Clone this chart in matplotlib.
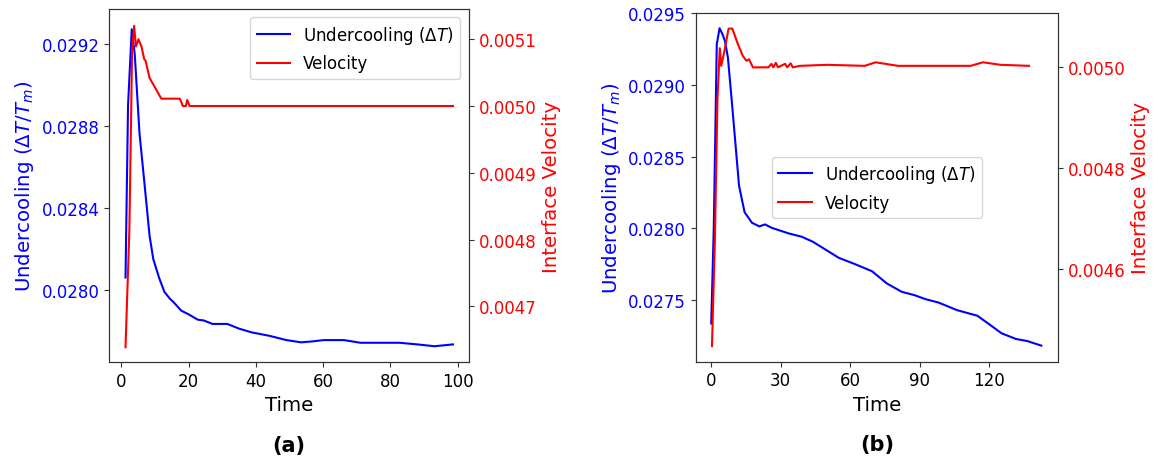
import matplotlib
matplotlib.use("Agg")
import matplotlib.pyplot as plt
from matplotlib.ticker import MultipleLocator, FormatStrFormatter

# ---------------- Data: panel (a) ----------------
t_under_a = [1.25, 2.0, 3.1, 4.0, 5.4, 7.0, 8.4, 9.5, 11.2, 12.8, 14.5, 15.5, 17.8, 20.0,
             22.7, 24.5, 27.1, 31.5, 35.0, 38.7, 44.0, 49.1, 53.5, 57.0, 60.1, 66.2,
             71.1, 82.7, 88.0, 93.1, 98.6]
under_a = [0.02806, 0.02890, 0.029273, 0.02915, 0.028766, 0.02850, 0.028264, 0.02815,
           0.02806, 0.02799, 0.027955, 0.027940, 0.027898, 0.027880, 0.027854, 0.027850,
           0.027833, 0.027833, 0.027810, 0.027792, 0.027775, 0.027754, 0.027743, 0.027748,
           0.027754, 0.027754, 0.027741, 0.027741, 0.027733, 0.027724, 0.027733]

t_vel_a = [1.25, 2.4, 3.2, 3.8, 4.35, 5.1, 6.0, 6.8, 7.2, 8.4, 10.1, 11.9, 17.4, 18.3,
           19.2, 19.6, 20.3, 30.0, 50.0, 70.0, 98.6]
vel_a = [0.004639, 0.004815, 0.00508, 0.00512, 0.005089, 0.0051, 0.005089, 0.00507,
         0.005068, 0.005042, 0.005027, 0.005011, 0.005011, 0.0050, 0.0050, 0.005009,
         0.0050, 0.0050, 0.0050, 0.0050, 0.0050]

# ---------------- Data: panel (b) ----------------
t_under_b = [0.0, 1.1, 2.4, 3.6, 4.8, 5.9, 7.2, 8.8, 10.4, 12.0, 14.4, 17.6, 20.8, 23.2,
             26.3, 33.5, 39.1, 43.9, 55.1, 61.5, 69.4, 75.8, 82.2, 87.8, 92.6, 98.1,
             106.1, 114.9, 120.5, 125.3, 131.6, 136.4, 142.5]
under_b = [0.027338, 0.0280, 0.029283, 0.029394, 0.029354, 0.029307, 0.02919, 0.028901,
           0.0286, 0.028298, 0.028113, 0.028039, 0.028014, 0.028028, 0.028003, 0.027965,
           0.027942, 0.027907, 0.027795, 0.027755, 0.027702, 0.027617, 0.027559, 0.027535,
           0.027507, 0.027484, 0.027431, 0.027392, 0.027327, 0.02727, 0.02723, 0.027216,
           0.027184]

t_vel_b = [0.33, 1.6, 2.7, 3.7, 4.3, 5.6, 6.4, 7.5, 9.1, 11.2, 13.6, 15.2, 16.3, 18.0,
           24.7, 26.0, 26.8, 27.9, 28.8, 31.9, 32.8, 34.3, 35.2, 38.3, 50.0, 66.2, 71.0,
           80.6, 100.0, 112.0, 117.3, 125.0, 137.2]
vel_b = [0.004446, 0.00466, 0.004937, 0.005038, 0.005003, 0.00503, 0.00505, 0.005077,
         0.005077, 0.00505, 0.005023, 0.005013, 0.005016, 0.0050, 0.0050, 0.005007,
         0.0050, 0.005009, 0.0050, 0.005007, 0.0050, 0.005008, 0.0050, 0.005003,
         0.005005, 0.005003, 0.00501, 0.005003, 0.005003, 0.005003, 0.00501, 0.005005,
         0.005003]

x_ticks_a = [0, 20, 40, 60, 80, 100]
x_ticks_b = [0, 30, 60, 90, 120]

TICK_FS = 12
LABEL_FS = 14.2
LEG_FS = 12
TAG_FS = 15

W, H = 1157, 464
fig = plt.figure(figsize=(W / 100, H / 100), dpi=100)


def make_panel(rect, t_u, u, t_v, v, xticks, xlim, ylim, y2lim, y_step, y2_step,
               leg_loc, tag):
    ax = fig.add_axes(rect)
    ax2 = ax.twinx()
    l1, = ax.plot(t_u, u, color="blue", lw=1.5, label=r"Undercooling ($\Delta T$)")
    l2, = ax2.plot(t_v, v, color="red", lw=1.5, label="Velocity")
    ax.set_xlim(*xlim)
    ax.set_ylim(*ylim)
    ax2.set_ylim(*y2lim)
    ax.set_xticks(xticks)
    ax.yaxis.set_major_locator(MultipleLocator(y_step))
    ax.yaxis.set_major_formatter(FormatStrFormatter("%.4f"))
    ax2.yaxis.set_major_locator(MultipleLocator(y2_step))
    ax2.yaxis.set_major_formatter(FormatStrFormatter("%.4f"))
    ax.tick_params(axis="x", labelsize=TICK_FS, color="#333333")
    ax.tick_params(axis="y", labelsize=TICK_FS, labelcolor="blue", color="#333333")
    ax2.tick_params(axis="y", labelsize=TICK_FS, labelcolor="red", color="#333333")
    for a in (ax, ax2):
        for s in a.spines.values():
            s.set_color("#333333")
    ax.set_xlabel("Time", fontsize=LABEL_FS)
    ax.set_ylabel(r"Undercooling ($\Delta T/T_m$)", fontsize=LABEL_FS, color="blue")
    ax2.set_ylabel("Interface Velocity", fontsize=LABEL_FS, color="red")
    ax.legend([l1, l2], [l1.get_label(), l2.get_label()], loc=leg_loc, fontsize=LEG_FS)
    ax.text(0.5, -0.235, tag, transform=ax.transAxes, ha="center", va="center",
            fontsize=TAG_FS, fontweight="bold")
    return ax, ax2


make_panel([109.1 / W, (H - 363) / H, 359.7 / W, 353 / H],
           t_under_a, under_a, t_vel_a, vel_a, x_ticks_a,
           (-3.63, 103.3), (0.027647, 0.029372), (0.0046169, 0.0051452),
           0.0004, 0.0001, "upper right", "(a)")

make_panel([695.7 / W, (H - 362.7) / H, 362.3 / W, 348.7 / H],
           t_under_b, under_b, t_vel_b, vel_b, x_ticks_b,
           (-6.7, 149.7), (0.027072, 0.0295), (0.004415, 0.005108),
           0.0005, 0.0002, "center", "(b)")

fig.savefig("out.png", dpi=100)
